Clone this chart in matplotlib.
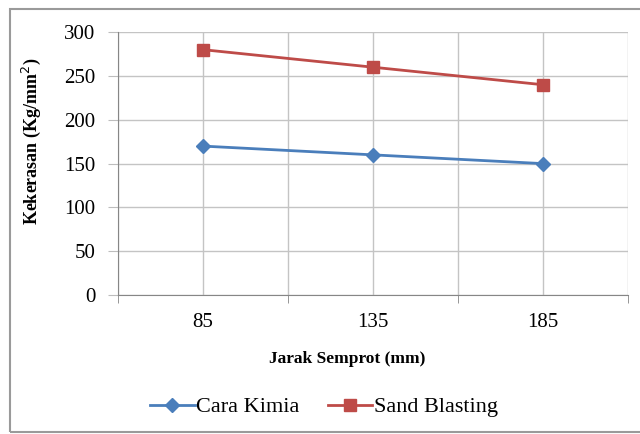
import matplotlib
matplotlib.use("Agg")
import matplotlib.pyplot as plt
from matplotlib.patches import Rectangle

plt.rcParams['font.family'] = ['Liberation Serif', 'DejaVu Serif']

jarak = ["85", "135", "185"]
cara_kimia = [170, 160, 150]
sand_blasting = [280, 260, 240]

BLUE = "#4A7EBB"
RED = "#BE4B48"
GRID = "#C4C4C4"

fig = plt.figure(figsize=(6.4, 4.34), dpi=100)
ax = fig.add_axes([0.184, 0.320, 0.797, 0.606])

x = list(range(len(jarak)))
ax.plot(x, cara_kimia, color=BLUE, lw=2.0, marker="D", ms=7,
        mfc=BLUE, mec=BLUE, label="Cara Kimia")
ax.plot(x, sand_blasting, color=RED, lw=2.0, marker="s", ms=8,
        mfc=RED, mec=RED, label="Sand Blasting")

ax.set_xlim(-0.5, len(jarak) - 0.5)
ax.set_ylim(0, 300)
ax.set_yticks(range(0, 301, 50))
ax.set_xticks(x)
ax.set_xticklabels(jarak)
ax.set_xticks([i - 0.5 for i in range(len(jarak) + 1)], minor=True)

ax.grid(True, which="both", color=GRID, lw=1.0)
ax.set_axisbelow(True)
for side in ["top", "right"]:
    ax.spines[side].set_visible(False)
ax.spines["left"].set_color("#868686")
ax.spines["bottom"].set_color("#868686")
ax.tick_params(axis="x", which="major", length=0, labelsize=15, pad=13)
ax.tick_params(axis="x", which="minor", length=6, color="#868686", direction="out")
ax.tick_params(axis="y", length=7, color="#BDBDBD", labelsize=15, pad=9)

ax.set_ylabel("Kekerasan (Kg/mm$^2$)", fontsize=13, fontweight="bold")
ax.yaxis.set_label_coords(-0.147, 0.586)
ax.set_xlabel("Jarak Semprot (mm)", fontsize=12.5, fontweight="bold")
ax.xaxis.set_label_coords(0.449, -0.213)

fig.legend(loc="center", bbox_to_anchor=(0.506, 0.062), ncol=2, frameon=False,
           fontsize=16, handlelength=2.0, handletextpad=0.05, columnspacing=1.3)

# outer chart border
fig.patches.append(Rectangle((10 / 640, 2 / 434), 640 / 640, 423 / 434,
                             transform=fig.transFigure, fill=False,
                             edgecolor="#9A9A9A", lw=1.5))

fig.savefig("out.png", dpi=100)
